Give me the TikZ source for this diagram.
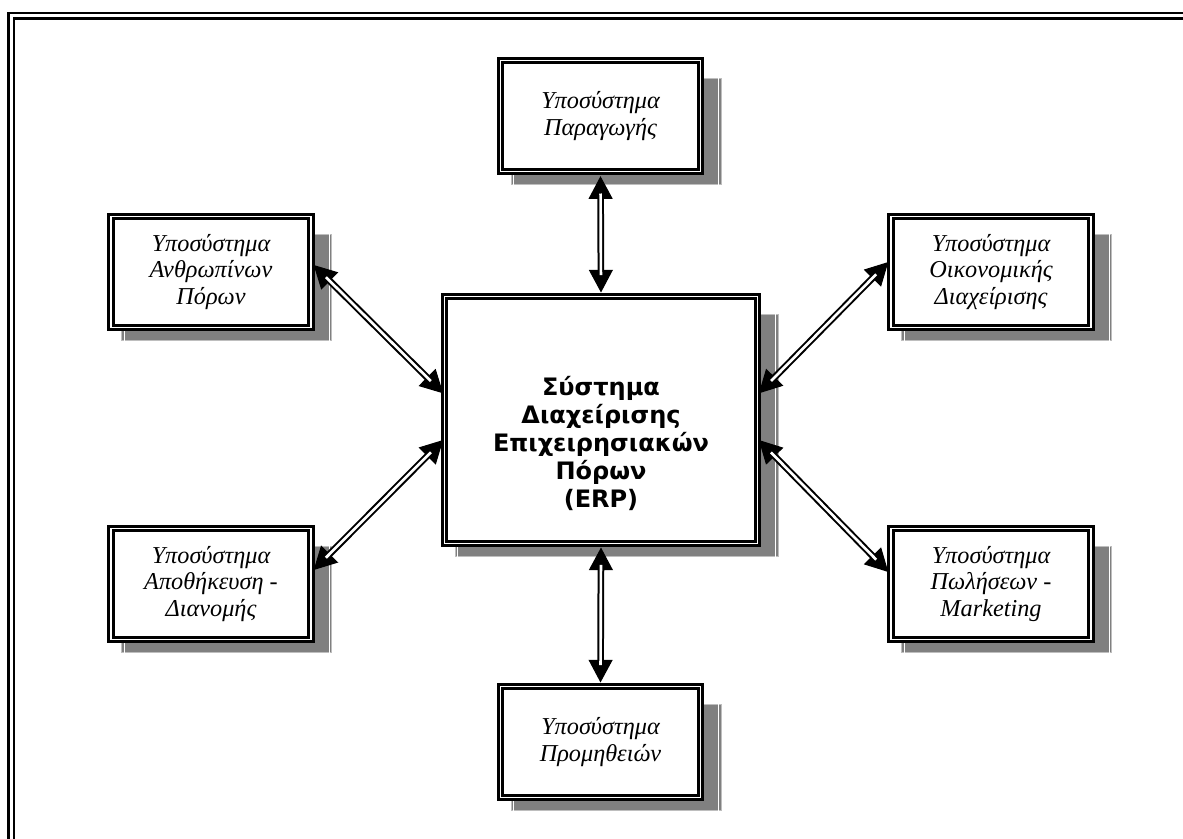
\documentclass[tikz,border=0pt]{standalone}
\usepackage{fontspec}
\setmainfont{Liberation Serif}
\newfontfamily\erpfont{DejaVu Sans}
\usetikzlibrary{arrows.meta,backgrounds}
\definecolor{shadowgray}{RGB}{128,128,128}
\definecolor{shadowedge}{RGB}{190,190,190}
\tikzset{
  subbox/.style={draw=black, double=white, line width=2pt, double distance=1.4pt,
    fill=white, minimum width=150pt, minimum height=83.25pt, inner sep=0pt,
    align=center, font=\fontsize{18.2}{20.2}\selectfont\itshape},
  erpbox/.style={subbox, minimum width=234.75pt, minimum height=185.25pt},
  erptext/.style={align=center, font=\erpfont\bfseries\fontsize{18}{21}\selectfont},
  shadowbox/.style={fill=shadowgray, draw=shadowedge, line width=0.6pt},
  shadowline/.style={draw=white, line width=0.8pt},
  headline/.style={draw=black, line width=0.8pt,
    {Triangle[length=17pt,width=18pt]}-{Triangle[length=17pt,width=18pt]}},
  shaftline/.style={draw=black, double=white, line width=1.5pt, double distance=2pt,
    shorten <=13pt, shorten >=13pt},
  framestyle/.style={draw=black, line width=1.8pt}
}
\begin{document}
\begin{tikzpicture}[x=0.75pt,y=-0.75pt]
\useasboundingbox (0,0) rectangle (1183,839);
% outer frame (cut off at right and bottom)
\draw[framestyle] (1190,13) -- (8.5,13) -- (8.5,845);
\draw[framestyle] (1190,18.5) -- (14,18.5) -- (14,845);

% boxes
\node[subbox] (prod) at (600.5,116) {Υποσύστημα\\Παραγωγής};
\node[subbox] (hr) at (211,272) {Υποσύστημα\\Ανθρωπίνων\\Πόρων};
\node[subbox] (fin) at (991,272) {Υποσύστημα\\Οικονομικής\\Διαχείρισης};
\node[subbox] (wh) at (211,584) {Υποσύστημα\\Αποθήκευση -\\Διανομής};
\node[subbox] (sal) at (991,584) {Υποσύστημα\\Πωλήσεων -\\Marketing};
\node[subbox] (sup) at (600.5,742) {Υποσύστημα\\Προμηθειών};
\node[erpbox] (erp) at (601,420) {};
\node[erptext] (erpt) at (601,443) {Σύστημα\\Διαχείρισης\\Επιχειρησιακών\\Πόρων\\(ERP)};

% shadows
\begin{scope}[on background layer]
\foreach \n in {prod,hr,fin,wh,sal,sup,erp}{
  \path[shadowbox] ([xshift=9pt,yshift=-9pt]\n.south west) rectangle ([xshift=14.6pt,yshift=-14.6pt]\n.north east);
  \path[shadowline] ([xshift=11pt,yshift=-11pt]\n.south west) rectangle ([xshift=12.6pt,yshift=-12.6pt]\n.north east);
}
\end{scope}

% connector end points
\coordinate (pA) at ([yshift=-2.5pt]prod.south);
\coordinate (pB) at ([yshift=2pt]erp.north);
\coordinate (sA) at ([yshift=-2pt]erp.south);
\coordinate (sB) at ([yshift=2pt]sup.north);
\coordinate (hA) at ([xshift=1pt,yshift=5.25pt]hr.east);
\coordinate (hB) at ([yshift=20pt]erp.west);
\coordinate (wA) at ([xshift=1pt,yshift=10.5pt]wh.east);
\coordinate (wB) at ([yshift=-15pt]erp.west);
\coordinate (fA) at ([xshift=-1pt,yshift=7.5pt]fin.west);
\coordinate (fB) at ([yshift=20pt]erp.east);
\coordinate (mA) at ([xshift=-1pt,yshift=9pt]sal.west);
\coordinate (mB) at ([yshift=-15pt]erp.east);

\foreach \a/\b in {pA/pB,sA/sB,hA/hB,wA/wB,fA/fB,mA/mB}{
  \draw[headline] (\a) -- (\b);
  \draw[shaftline] (\a) -- (\b);
}
\end{tikzpicture}
\end{document}
